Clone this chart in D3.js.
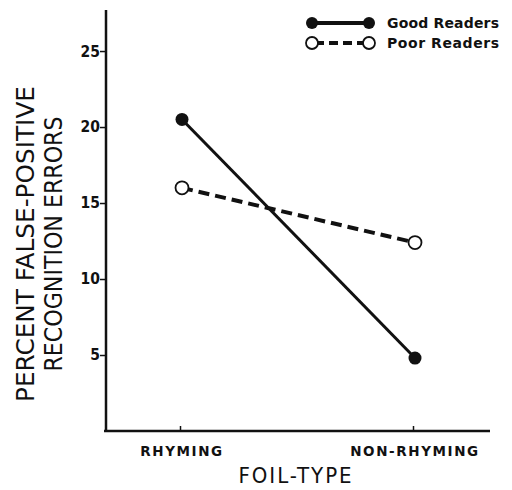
<!DOCTYPE html>
<html><head><meta charset="utf-8">
<script src="https://cdn.jsdelivr.net/npm/d3@7"></script>
<style>body{margin:0;background:#fff}svg{display:block}</style>
</head><body>
<script>
const categories = ["RHYMING", "NON-RHYMING"];
const goodReaders = [20.5, 4.8];
const poorReaders = [16.0, 12.4];
const yTicks = [5, 10, 15, 20, 25];
const seriesNames = ["Good Readers", "Poor Readers"];

const W = 512, H = 490;
const svg = d3.select("body").append("svg").attr("width", W).attr("height", H);
const x = d3.scalePoint().domain(categories).range([180, 413]);
const y = d3.scaleLinear().domain([0, 27.7]).range([431, 10]);
const ink = "#111";

// axes
const yAxis = svg.append("g").attr("transform", "translate(106,0)")
  .call(d3.axisLeft(y).tickValues(yTicks).tickSize(6).tickSizeOuter(0).tickFormat(d3.format("d")));
yAxis.select(".domain").attr("d", `M0,${y.range()[1]}V${y.range()[0]}`).attr("stroke", ink).attr("stroke-width", 2.5);
yAxis.selectAll(".tick line").attr("stroke", ink).attr("stroke-width", 1.5);
yAxis.selectAll(".tick text").attr("font-family", "DejaVu Sans Condensed, DejaVu Sans").attr("font-size", 15.5)
  .attr("font-weight", "bold").attr("fill", ink).attr("x", -6);

const xAxis = svg.append("g").attr("transform", "translate(0,431)")
  .call(d3.axisTop(x).tickSize(5).tickSizeOuter(0).tickFormat(""));
xAxis.select(".domain").attr("d", "M104,0H490").attr("stroke", ink).attr("stroke-width", 2.5);
xAxis.selectAll(".tick line").attr("stroke", ink).attr("stroke-width", 1.5);

svg.append("g").selectAll("text").data(categories).join("text")
  .attr("x", d => x(d) + 2).attr("y", 456).attr("text-anchor", "middle")
  .attr("font-family", "DejaVu Sans").attr("font-weight", "bold").attr("font-size", 13.5)
  .attr("letter-spacing", 1.6).attr("fill", ink).text(d => d);

svg.append("text").attr("x", 296).attr("y", 483).attr("text-anchor", "middle")
  .attr("font-family", "DejaVu Sans Condensed, DejaVu Sans").attr("font-size", 22)
  .attr("letter-spacing", 2).attr("fill", ink).text("FOIL-TYPE");

const yt = svg.append("text").attr("transform", "translate(0,244) rotate(-90)")
  .attr("text-anchor", "middle").attr("font-family", "DejaVu Sans Condensed, DejaVu Sans")
  .attr("font-size", 24).attr("fill", ink);
yt.append("tspan").attr("x", 0).attr("y", 34).attr("textLength", 316).attr("lengthAdjust", "spacingAndGlyphs").text("PERCENT FALSE-POSITIVE");
yt.append("tspan").attr("x", 0).attr("y", 62).attr("textLength", 255).attr("lengthAdjust", "spacingAndGlyphs").text("RECOGNITION ERRORS");

// lines
const line = d3.line().x((d, i) => x(categories[i]) + 2).y(d => y(d));
svg.append("path").datum(poorReaders).attr("d", line).attr("fill", "none")
  .attr("stroke", ink).attr("stroke-width", 4).attr("stroke-dasharray", "11,6");
svg.append("path").datum(goodReaders).attr("d", line).attr("fill", "none")
  .attr("stroke", ink).attr("stroke-width", 3);
svg.append("g").selectAll("circle").data(goodReaders).join("circle")
  .attr("cx", (d, i) => x(categories[i]) + 2).attr("cy", d => y(d)).attr("r", 6.5).attr("fill", ink);
svg.append("g").selectAll("circle").data(poorReaders).join("circle")
  .attr("cx", (d, i) => x(categories[i]) + 2).attr("cy", d => y(d)).attr("r", 6.5)
  .attr("fill", "#fff").attr("stroke", ink).attr("stroke-width", 1.8);

// legend
const lg = svg.append("g");
const ly = [23, 43];
lg.append("line").attr("x1", 312).attr("x2", 369).attr("y1", ly[0]).attr("y2", ly[0]).attr("stroke", ink).attr("stroke-width", 4);
lg.append("line").attr("x1", 312).attr("x2", 369).attr("y1", ly[1]).attr("y2", ly[1]).attr("stroke", ink).attr("stroke-width", 4).attr("stroke-dasharray", "9,5").attr("stroke-dashoffset", -3);
lg.selectAll("circle.f").data([312, 369]).join("circle").attr("cx", d => d).attr("cy", ly[0]).attr("r", 6).attr("fill", ink);
lg.selectAll("circle.o").data([312, 369]).join("circle").attr("cx", d => d).attr("cy", ly[1]).attr("r", 6).attr("fill", "#fff").attr("stroke", ink).attr("stroke-width", 1.8);
lg.selectAll("text").data(seriesNames).join("text").attr("x", 387).attr("y", (d, i) => ly[i] + 5)
  .attr("font-family", "DejaVu Sans").attr("font-weight", "bold").attr("font-size", 14).attr("fill", ink)
  .attr("textLength", 112).attr("lengthAdjust", "spacing").text(d => d);
</script>
</body></html>
